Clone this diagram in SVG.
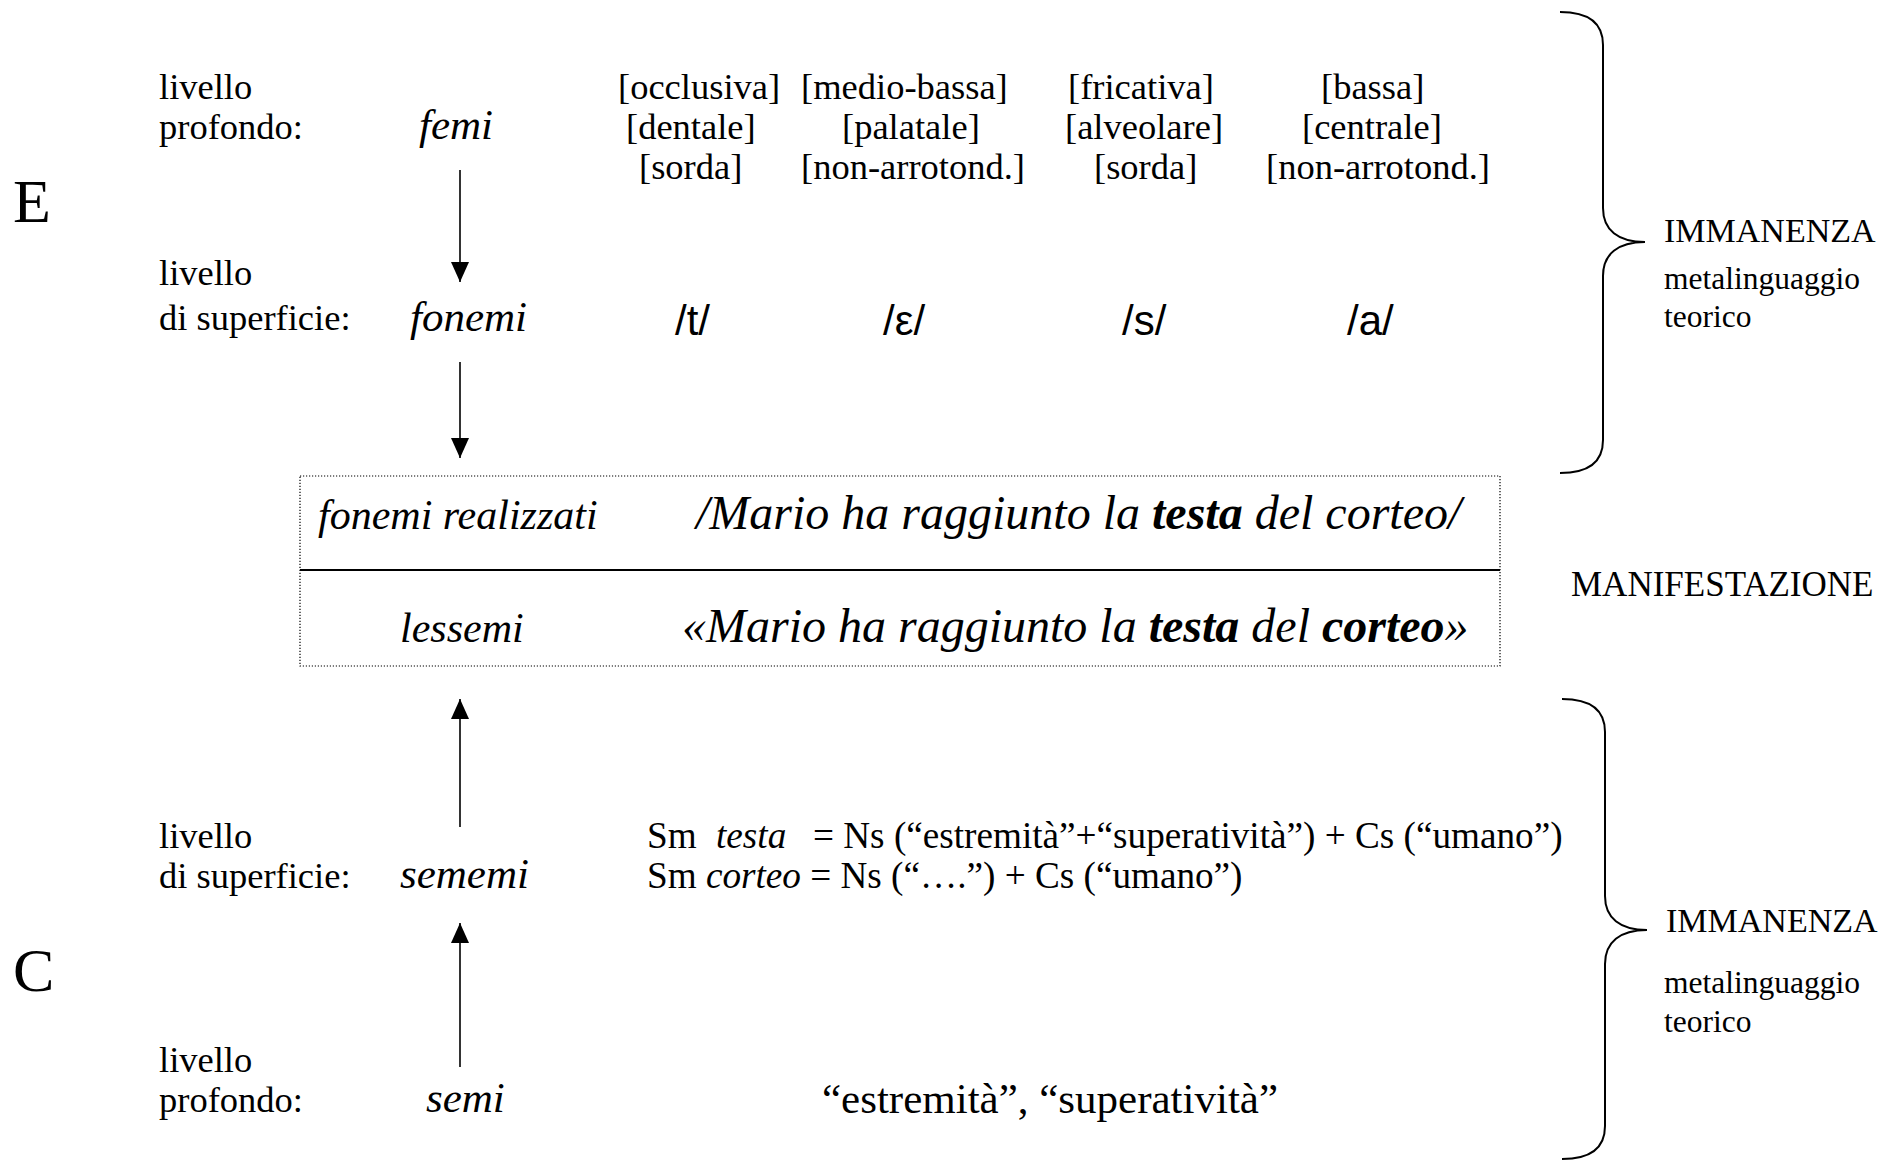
<svg xmlns="http://www.w3.org/2000/svg" width="1899" height="1161" viewBox="0 0 1899 1161">
<style>
text{font-family:"Liberation Serif","Times New Roman",serif;fill:#000}
.b{font-size:36.5px}
.it{font-style:italic;font-size:43px}
.big{font-size:62px}
.ph{font-family:"Liberation Sans",Arial,sans-serif;font-size:42px}
.sent{font-style:italic;font-size:48px}
.bi{font-weight:bold}
.imm{font-size:34px}
.meta{font-size:31.5px}
.man{font-size:35px}
.est{font-size:43px}
.sm{font-size:37.2px}
.arr{stroke:#000;stroke-width:1.6;fill:none;marker-end:url(#ah)}
.brace{stroke:#000;stroke-width:2;fill:none}
</style>
<defs>
<marker id="ah" viewBox="0 0 20 18" markerWidth="20" markerHeight="18" refX="20" refY="9" orient="auto" markerUnits="userSpaceOnUse">
<path d="M0,0 L20,9 L0,18 z" fill="#000"/>
</marker>
</defs>
<rect width="1899" height="1161" fill="#fff"/>

<g id="label-E"><text class="big" x="13" y="222">E</text></g>
<g id="label-C"><text class="big" x="13" y="991">C</text></g>

<g id="femi-level">
<text class="b" x="159" y="99">livello</text>
<text class="b" x="159" y="139">profondo:</text>
<text class="it" x="419" y="139">femi</text>
</g>

<g id="features">
<text class="b" x="618" y="99">[occlusiva]</text>
<text class="b" x="626" y="139">[dentale]</text>
<text class="b" x="639" y="179">[sorda]</text>
<text class="b" x="801" y="99">[medio-bassa]</text>
<text class="b" x="842" y="139">[palatale]</text>
<text class="b" x="801" y="179">[non-arrotond.]</text>
<text class="b" x="1068" y="99">[fricativa]</text>
<text class="b" x="1065" y="139">[alveolare]</text>
<text class="b" x="1094" y="179">[sorda]</text>
<text class="b" x="1321" y="99">[bassa]</text>
<text class="b" x="1302" y="139">[centrale]</text>
<text class="b" x="1266" y="179">[non-arrotond.]</text>
</g>

<g id="fonemi-level">
<text class="b" x="159" y="285">livello</text>
<text class="b" x="159" y="330">di superficie:</text>
<text class="it" x="410" y="331">fonemi</text>
<text class="ph" x="675" y="335">/t/</text>
<text class="ph" x="883" y="335">/ε/</text>
<text class="ph" x="1122" y="335">/s/</text>
<text class="ph" x="1347" y="335">/a/</text>
</g>

<g id="manifestazione-box">
<rect x="300" y="476" width="1200" height="190" fill="none" stroke="#000" stroke-width="1.2" stroke-dasharray="1.2,1.8"/>
<line x1="300" y1="570" x2="1500" y2="570" stroke="#000" stroke-width="2"/>
<text class="it" x="318" y="529" style="font-size:42px">fonemi realizzati</text>
<text class="sent" x="696" y="529">/Mario ha raggiunto la <tspan class="bi">testa</tspan> del corteo/</text>
<text class="it" x="400" y="642" style="font-size:42px">lessemi</text>
<text class="sent" x="682" y="642">«Mario ha raggiunto la <tspan class="bi">testa</tspan> del <tspan class="bi">corteo</tspan>»</text>
</g>

<g id="manifestazione-label"><text class="man" x="1571" y="596">MANIFESTAZIONE</text></g>

<g id="sememi-level">
<text class="b" x="159" y="848">livello</text>
<text class="b" x="159" y="888">di superficie:</text>
<text class="it" x="400" y="888">sememi</text>
<text class="sm" x="647" y="848">Sm</text>
<text class="sm" x="716" y="848" font-style="italic">testa</text>
<text class="sm" x="813" y="848">= Ns (“estremità”+“superatività”) + Cs (“umano”)</text>
<text class="sm" x="647" y="888">Sm <tspan font-style="italic">corteo</tspan> = Ns (“….”) + Cs (“umano”)</text>
</g>

<g id="semi-level">
<text class="b" x="159" y="1072">livello</text>
<text class="b" x="159" y="1112">profondo:</text>
<text class="it" x="426" y="1112">semi</text>
<text class="est" x="822" y="1113">“estremità”, “superatività”</text>
</g>

<g id="immanenza-top">
<path class="brace" d="M1560,12 C1590,12 1603,24 1603,45 L1603,208 C1603,230 1618,242 1645,242 C1618,242 1603,254 1603,276 L1603,440 C1603,461 1590,473 1560,473"/>
<text class="imm" x="1664" y="242">IMMANENZA</text>
<text class="meta" x="1664" y="289">metalinguaggio</text>
<text class="meta" x="1664" y="327">teorico</text>
</g>

<g id="immanenza-bottom">
<path class="brace" d="M1562,699 C1592,699 1605,711 1605,732 L1605,896 C1605,918 1620,930 1647,930 C1620,930 1605,942 1605,964 L1605,1126 C1605,1147 1592,1159 1562,1159"/>
<text class="imm" x="1666" y="932">IMMANENZA</text>
<text class="meta" x="1664" y="993">metalinguaggio</text>
<text class="meta" x="1664" y="1032">teorico</text>
</g>

<g id="connectors">
<line class="arr" x1="460" y1="170" x2="460" y2="282"/>
<line class="arr" x1="460" y1="362" x2="460" y2="458"/>
<line class="arr" x1="460" y1="827" x2="460" y2="699"/>
<line class="arr" x1="460" y1="1067" x2="460" y2="923"/>
</g>
</svg>
